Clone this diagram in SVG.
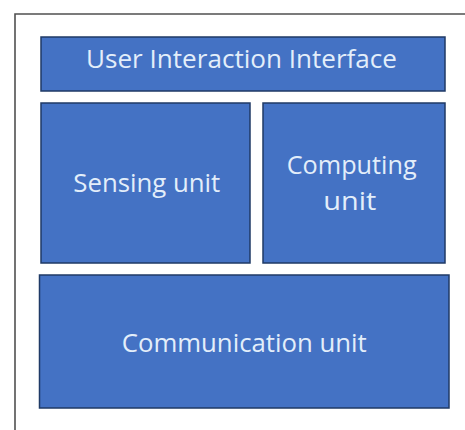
<svg xmlns="http://www.w3.org/2000/svg" width="465" height="430" viewBox="0 0 465 430">
  <style>
    .box { fill: #4472C4; stroke: #1F3A66; stroke-width: 1.5; }
    .lbl { font-family: "Open Sans", "Noto Sans", "Liberation Sans", sans-serif; font-size: 25px; fill: #E3EEFA; text-anchor: start; }
    .frame { fill: none; stroke: #505050; stroke-width: 1.6; }
  </style>
  <rect width="465" height="430" fill="#FFFFFF"/>
  <!-- outer frame (left and top edges visible) -->
  <path class="frame" d="M15,430 L15,14 L466,14"/>

  <g id="user-interaction-interface">
    <rect class="box" x="41" y="37" width="404" height="54"/>
    <text class="lbl" x="86" y="67.7" textLength="311" lengthAdjust="spacingAndGlyphs">User Interaction Interface</text>
  </g>

  <g id="sensing-unit">
    <rect class="box" x="41" y="103" width="209" height="160"/>
    <text class="lbl" x="73.3" y="191.7" textLength="147" lengthAdjust="spacingAndGlyphs">Sensing unit</text>
  </g>

  <g id="computing-unit">
    <rect class="box" x="263" y="103" width="182" height="160"/>
    <text class="lbl" x="286.7" y="174.3" textLength="130" lengthAdjust="spacingAndGlyphs">Computing</text>
    <text class="lbl" x="323.3" y="210" textLength="53" lengthAdjust="spacingAndGlyphs">unit</text>
  </g>

  <g id="communication-unit">
    <rect class="box" x="39.5" y="275" width="409.5" height="133"/>
    <text class="lbl" x="121.7" y="351.7" textLength="245" lengthAdjust="spacingAndGlyphs">Communication unit</text>
  </g>

  <g id="connectors"></g>
</svg>
